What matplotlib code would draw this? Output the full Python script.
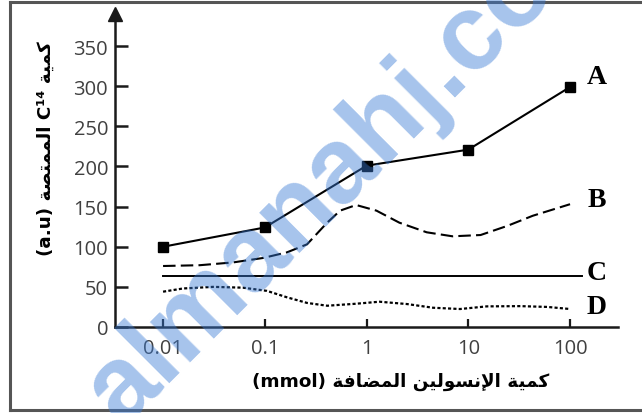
"""
Insulin / C14 Aufnahme Diagramm nachbauen
- log x Achse, vier Kurven A-D
"""

import matplotlib
matplotlib.use("Agg")
import matplotlib.pyplot as plt
from matplotlib.lines import Line2D

# Kurve A (Punkte mit Quadraten)
a_x = [0.01, 0.1, 1, 10, 100]
a_y = [100, 124, 201, 221, 299]

# Kurve B (gestrichelt)
b_x = [0.01, 0.023, 0.049, 0.096, 0.165, 0.26, 0.41, 0.55, 0.79, 1.25,
       2.1, 3.9, 7.0, 13.2, 24.2, 43, 100]
b_y = [76, 77, 80.5, 86, 93, 103, 130, 145, 152, 145,
       130, 118, 113, 114.6, 126, 138.6, 153]

# Kurve C (konstant)
c_x = [0.01, 130]
c_y = [64, 64]

# Kurve D (gepunktet)
d_x = [0.01, 0.0157, 0.031, 0.061, 0.105, 0.165, 0.26, 0.41, 0.79, 1.34,
       2.5, 4.5, 8.3, 15.2, 32.5, 60, 100]
d_y = [44, 48, 50, 49, 45, 37, 30, 26.5, 29, 31.5,
       28.6, 24, 22.4, 25.7, 26, 25, 22.4]

x_ticks = [0.01, 0.1, 1, 10, 100]
x_tick_labels = ["0.01", "0.1", "1", "10", "100"]
y_ticks = [0, 50, 100, 150, 200, 250, 300, 350]

# arabische Texte in Darstellungsformen, schon in visueller Reihenfolge
kamiya = "\uFE94\uFEF4\uFEE4\uFEDB"
insulin = "\uFEE6\uFEF4\uFEDF\uFEEE\uFEB4\uFEE7\uFEF9\uFE8D"
mudafa = "\uFE94\uFED3\uFE8E\uFEC0\uFEE4\uFEDF\uFE8D"
mumtassa = "\uFE94\uFEBC\uFE98\uFEE4\uFEE4\uFEDF\uFE8D"

X_LABEL = "(mmol) " + mudafa + " " + insulin + " " + kamiya
Y_LABEL = "(a.u) " + mumtassa + " C\u00B9\u2074 " + kamiya


def main():
    fig = plt.figure(figsize=(6.42, 4.14), dpi=100)
    ax = fig.add_axes([115 / 642, 1 - 328 / 414, 503 / 642, 313 / 414])

    ax.plot(a_x, a_y, color="black", lw=1.5, marker="s", ms=6.5, zorder=3)
    ax.plot(b_x, b_y, color="black", lw=1.5, dashes=(6, 2.5), zorder=3)
    ax.plot(c_x, c_y, color="black", lw=1.4, zorder=3)
    ax.plot(d_x, d_y, color="black", lw=1.6, dashes=(1.4, 1.0), zorder=3)

    ax.set_xscale("log")
    ax.set_xlim(0.00337, 296)
    ax.set_ylim(0, 390)

    ax.set_xticks(x_ticks)
    ax.set_xticklabels(x_tick_labels)
    ax.minorticks_off()
    ax.set_yticks(y_ticks)

    for s in ["top", "right"]:
        ax.spines[s].set_visible(False)
    for s in ["left", "bottom"]:
        ax.spines[s].set_linewidth(1.8)
        ax.spines[s].set_color("#1a1a1a")

    ax.tick_params(axis="y", direction="in", length=9, width=1.8,
                   color="#1a1a1a", pad=5, labelsize=14.5, labelcolor="#404040")
    ax.tick_params(axis="x", direction="in", length=6, width=1.6,
                   color="#1a1a1a", pad=8, labelsize=14.5, labelcolor="#404040")
    for lab in ax.get_xticklabels() + ax.get_yticklabels():
        lab.set_family("Open Sans")

    # Pfeil oben an der y Achse
    ax.plot([0], [1.0], marker="^", ms=10, color="#1a1a1a",
            transform=ax.transAxes, clip_on=False)

    # Kurvenbeschriftung
    for name, yy in [("A", 312), ("B", 159), ("C", 68), ("D", 25)]:
        ax.text(184, yy, name, family="Liberation Serif", weight="bold",
                fontsize=20, ha="center", va="center")

    fig.text(401 / 642, 1 - 382 / 414, X_LABEL, family="DejaVu Sans",
             weight="bold", fontsize=13.2, ha="center", va="center")
    fig.text(46 / 642, 1 - 149 / 414, Y_LABEL, family="DejaVu Sans",
             weight="bold", fontsize=13.2, ha="center", va="center", rotation=90)

    # Wasserzeichen
    fig.text(355 / 642, 1 - 155 / 414, "almanahj.com", family="Liberation Sans",
             weight="bold", fontsize=77, color="#3a7bd5", alpha=0.45,
             rotation=45, ha="center", va="center", zorder=10)

    # Rahmen links, oben, unten
    for xs, ys in [([9.5, 9.5], [3, 411]), ([9.5, 642], [3, 3]),
                   ([9.5, 642], [411, 411])]:
        fig.add_artist(Line2D([v / 642 for v in xs], [1 - v / 414 for v in ys],
                              color="#555555", lw=2.2))

    fig.savefig("out.png", dpi=100)


if __name__ == "__main__":
    main()
